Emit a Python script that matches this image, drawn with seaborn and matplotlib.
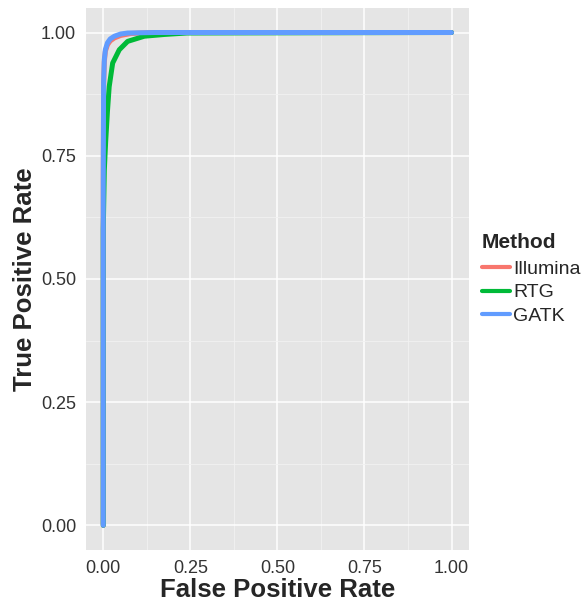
import matplotlib
matplotlib.use('Agg')
import matplotlib.pyplot as plt
import seaborn as sns
import pandas as pd

# ROC curve points
illumina_fpr = [0.0, 0.0, 0.001, 0.003, 0.006, 0.012, 0.02, 0.032, 0.05, 0.08, 0.15, 1.0]
illumina_tpr = [0.0, 0.70, 0.89, 0.94, 0.962, 0.975, 0.983, 0.989, 0.994, 0.998, 1.0, 1.0]

rtg_fpr = [0.0, 0.0, 0.003, 0.007, 0.012, 0.017, 0.027, 0.046, 0.07, 0.118, 0.175, 0.24, 1.0]
rtg_tpr = [0.0, 0.60, 0.72, 0.78, 0.84, 0.89, 0.938, 0.965, 0.982, 0.9925, 0.996, 0.999, 1.0]

gatk_fpr = [0.0, 0.0, 0.001, 0.003, 0.006, 0.012, 0.02, 0.032, 0.05, 0.07, 0.15, 1.0]
gatk_tpr = [0.0, 0.70, 0.90, 0.945, 0.965, 0.979, 0.987, 0.9925, 0.997, 0.999, 1.0, 1.0]

methods = ['Illumina', 'RTG', 'GATK']
colors = ['#F8766D', '#00BA38', '#619CFF']

df = pd.concat([
    pd.DataFrame({'fpr': illumina_fpr, 'tpr': illumina_tpr, 'Method': 'Illumina'}),
    pd.DataFrame({'fpr': rtg_fpr, 'tpr': rtg_tpr, 'Method': 'RTG'}),
    pd.DataFrame({'fpr': gatk_fpr, 'tpr': gatk_tpr, 'Method': 'GATK'}),
], ignore_index=True)

sns.set_style('darkgrid', {'axes.facecolor': '#E5E5E5', 'grid.color': 'white'})
plt.rcParams['font.family'] = ['Liberation Sans', 'DejaVu Sans']

fig = plt.figure(figsize=(5.84, 6.05), dpi=100)
ax = fig.add_axes([0.147, 0.091, 0.656, 0.896])

sns.lineplot(data=df, x='fpr', y='tpr', hue='Method', hue_order=methods,
             palette=colors, sort=False, estimator=None, linewidth=3.6, ax=ax)

ax.set_xlim(-0.05, 1.05)
ax.set_ylim(-0.05, 1.05)
ticks = [0.0, 0.25, 0.5, 0.75, 1.0]
ax.set_xticks(ticks)
ax.set_yticks(ticks)
ax.set_xticklabels(['0.00', '0.25', '0.50', '0.75', '1.00'])
ax.set_yticklabels(['0.00', '0.25', '0.50', '0.75', '1.00'])
ax.set_xticks([0.125, 0.375, 0.625, 0.875], minor=True)
ax.set_yticks([0.125, 0.375, 0.625, 0.875], minor=True)
ax.grid(which='major', color='white', linewidth=1.1)
ax.grid(which='minor', color='#F2F2F2', linewidth=0.6)
ax.tick_params(axis='both', which='major', labelsize=13, labelcolor='#333333',
               length=4, color='#7F7F7F', width=0.8, pad=3)
ax.tick_params(axis='both', which='minor', length=0)
for s in ax.spines.values():
    s.set_visible(False)

ax.set_xlabel('False Positive Rate', fontsize=18.5, fontweight='bold', labelpad=1)
ax.set_ylabel('True Positive Rate', fontsize=18.5, fontweight='bold', labelpad=3)

leg = ax.legend(title='Method', loc='center left', bbox_to_anchor=(1.014, 0.50),
                frameon=False, fontsize=14, title_fontsize=15,
                handlelength=1.45, handletextpad=0.15, labelspacing=0.3,
                borderaxespad=0.0)
leg.get_title().set_fontweight('bold')
leg._legend_box.align = 'left'
leg._legend_box.sep = 6
for line in leg.get_lines():
    line.set_linewidth(3)

fig.savefig('out.png', dpi=100)
